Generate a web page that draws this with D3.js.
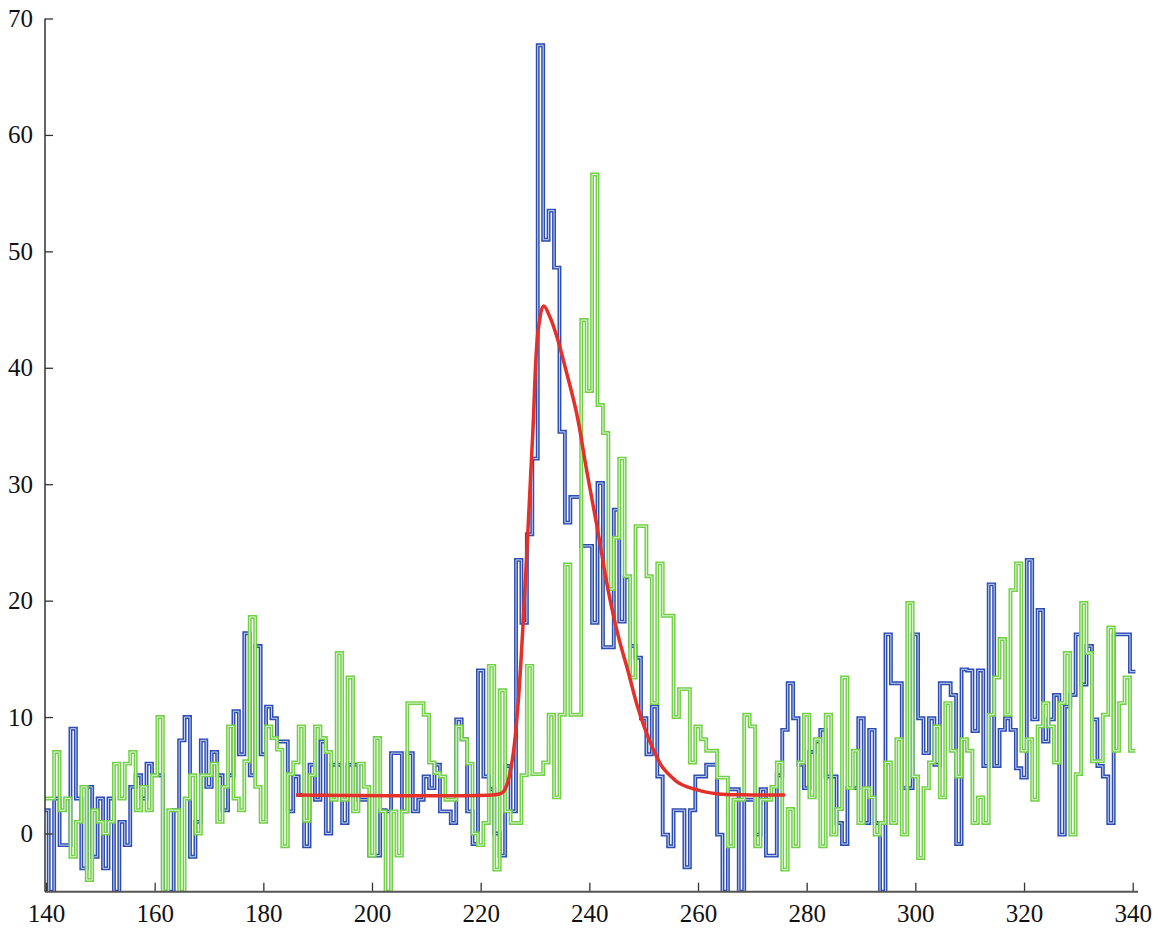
<!DOCTYPE html>
<html>
<head>
<meta charset="utf-8">
<script src="https://cdn.jsdelivr.net/npm/d3@7"></script>
<style>
  html, body { margin: 0; padding: 0; background: #fff; }
  svg { display: block; }
</style>
</head>
<body>
<svg id="chart" width="1158" height="928"></svg>
<script>
// Channel numbers (bin centres) shared by both spectra
const channelStart = 140;
const channelEnd = 340;

// Counts per channel, first spectrum (blue), channels 140..340
const blueCounts = [
  2, -5, 3, -1, -1, 9, 3, -3, 4, -2,                    // 140
  3, -3, 3, -5, 1, -1, 4, 5, 3, 6,                      // 150
  5, 5, -5, -5, 2, 8, 10, -2, 1, 8,                     // 160
  4, 7, 5, 2, 5, 10.5, 6.8, 17.2, 5, 16.1,              // 170
  6.8, 10.9, 9.9, 7.9, 7.9, 1.9, 4.9, 3.3, -1.1, 5.9,   // 180
  2.9, 7.9, 0, 5.9, 5.9, 0.9, 5.9, 5.9, 2.9, 2.9,       // 190
  -1.9, -1.9, 2, 1.9, 6.9, 6.9, 1.9, 6.9, 1.9, 2.9,     // 200
  4.9, 3.9, 5.9, 1.9, 1.9, 0.9, 9.8, 8.1, 1.9, -0.9,    // 210
  14, 4.9, 3.8, 0, -1.9, 5.8, 1.9, 23.5, 18.1, 25.7,    // 220
  32.2, 67.7, 51, 53.5, 48.6, 34.5, 26.7, 28.9, 28.9, 24.7, // 230
  24.7, 18.1, 30.1, 16, 16, 27.8, 18.2, 22, 16.1, 15.1, // 240
  9.9, 6.8, 10.9, 4.9, -0.1, -1.1, 2, 2, -2.9, 2,       // 250
  4.9, 4.9, 5.9, 5.9, -0.1, -5, 3.8, 3.8, -5, 2.9,      // 260
  2.9, -0.1, 3.8, -1.9, -1.9, 5, 8.9, 12.9, 9.9, 5.9,   // 270
  3.9, 7, 7.9, 8.9, 4.9, 4.9, 0.9, -0.9, 3.9, 3.9,      // 280
  9.9, 0.9, 8.9, 0.9, -5, 17.1, 12.9, 12.9, 3.9, 3.9,   // 290
  17.1, 9.9, 6.9, 9.9, 5.9, 12.9, 12.9, 11.9, -0.9, 14.1, // 300
  14, 8.8, 14, 5.8, 21.4, 5.8, 8.9, 9.9, 8.9, 5.6,      // 310
  4.8, 23.5, 9.8, 19.2, 7.9, 9.8, 11.9, -0.1, 10.9, 11.9, // 320
  17.1, 12.8, 16.1, 9.8, 5.8, 4.9, 0.9, 17.1, 17.1, 17.1, // 330
  13.9                                                  // 340
];

// Counts per channel, second spectrum (green), channels 140..340
const greenCounts = [
  3, 3, 7, 2, 3, -2, 1, 4, -4, 2,                       // 140
  1, 0, 1, 6, 3, 6, 7, 2, 4, 2,                         // 150
  5, 10, -5, 2, 2, -5, 3, 5, 0, 5,                      // 160
  5, 6, 1, 4, 9.2, 3, 2, 6.2, 18.6, 4,                  // 170
  1, 9.2, 8.2, 7.2, -1.1, 5.1, 6.1, 9.2, 1.1, 5,        // 180
  9.2, 8.2, 7, 2.9, 15.5, 2.9, 13.4, 1.9, 6, 4,         // 190
  -1.9, 8.2, 1.9, -5, 1.9, -1.9, 1.9, 11.2, 11.2, 11.2, // 200
  10.2, 6.1, 5.2, 4.9, 2.9, 2.9, 9.2, 8.1, 6, 0,        // 210
  -1, 0.9, 14.4, -3.1, 12.3, 1.9, 0.9, 0.9, 5, 14.4,    // 220
  5.1, 5.1, 6.1, 10.2, 3.1, 10.2, 23.1, 10.2, 10.2, 44.1, // 230
  38, 56.6, 36.8, 34.4, 21, 25.4, 32.2, 22.1, 13.4, 26.4, // 240
  26.4, 22.1, 11.2, 23.2, 18.7, 18.7, 10, 12.4, 12.4, 6.1, // 250
  9.2, 8.1, 7.1, 7.1, 4.8, 4.8, -1.1, 2.9, 2.9, 10.2,   // 260
  9.2, -1.1, 2.9, 2.9, 4, 6.1, -3.1, 2.1, -1.1, 6.1,    // 270
  10.2, 3.1, 8.1, -1.1, 10.2, -0.1, 2.1, 13.4, 3.9, 7.1, // 280
  0.9, 3.9, 3.1, -0.1, 0.9, 6.1, 0.9, 8.1, -0.1, 19.8,  // 290
  4.9, -2.1, 3.9, 6.1, 9.2, 3.1, 11.2, 7.1, 4.9, 8.1,   // 300
  7.1, 0.9, 3.1, 0.9, 10.2, 13.4, 16.7, 10.2, 20.9, 23.2, // 310
  7.1, 8.1, 2.9, 9.2, 11.2, 9.2, 6.1, 11.2, 15.5, -0.1, // 320
  5.1, 19.8, 15.5, 6.2, 6.2, 10.2, 17.7, 7.1, 11.2, 13.4, // 330
  7.1                                                   // 340
];

// Fitted peak shape (red), sampled channel / count pairs
const fitChannels = [186, 222, 223.5, 224.2, 225.1, 226, 226.9, 227.85, 228.8, 229.6,
  230.6, 231.6, 232.8, 234, 235.8, 237.7, 239.5, 241.4, 243.5, 245.3,
  247.2, 248.8, 250.3, 251.8, 253.3, 254.8, 256.4, 258, 259.5, 261.5,
  263.7, 268, 276];
const fitCounts = [3.3, 3.3, 3.4, 3.6, 4.6, 6.9, 11.2, 18.4, 27, 34.5,
  43.3, 45.3, 44.3, 42.7, 39.6, 36, 31.2, 26.4, 20.8, 17,
  13.8, 11, 8.9, 7.2, 5.8, 5, 4.35, 4, 3.8, 3.55,
  3.4, 3.32, 3.3];

const xTicks = [140, 160, 180, 200, 220, 240, 260, 280, 300, 320, 340];
const yTicks = [0, 10, 20, 30, 40, 50, 60, 70];

const svg = d3.select("#chart");

const x = d3.scaleLinear().domain([140, 340]).range([46, 1132.7]);
const y = d3.scaleLinear().domain([-5, 70]).range([891.7, 18.5]);

const plotLeft = 45, plotRight = 1138, plotTop = 18.5, plotBottom = 891.7;

svg.append("defs").append("clipPath").attr("id", "plot")
  .append("rect")
  .attr("x", plotLeft).attr("y", plotTop - 2)
  .attr("width", plotRight - plotLeft).attr("height", plotBottom - plotTop + 2);

// Each channel is drawn as a flat step spanning channel ± 0.5
function stepPoints(counts) {
  const pts = [];
  counts.forEach((c, i) => {
    const ch = channelStart + i;
    pts.push([ch - 0.5, c], [ch + 0.5, c]);
  });
  return pts;
}

const stepLine = d3.line().x(d => x(d[0])).y(d => y(d[1]));

const plot = svg.append("g").attr("clip-path", "url(#plot)");

// Histogram outline: a coloured stroke with a pale core
function drawSpectrum(counts, colour, core) {
  const d = stepLine(stepPoints(counts));
  plot.append("path").attr("d", d)
    .attr("fill", "none").attr("stroke", colour)
    .attr("stroke-width", 3.9).attr("stroke-linejoin", "miter");
  plot.append("path").attr("d", d)
    .attr("fill", "none").attr("stroke", core)
    .attr("stroke-width", 1.0).attr("stroke-linejoin", "miter");
}

drawSpectrum(blueCounts, "#2d4db0", "#c9d4f4");
drawSpectrum(greenCounts, "#72d048", "#e2f7d8");

const fit = fitChannels.map((c, i) => [c, fitCounts[i]]);
plot.append("path")
  .attr("d", d3.line().x(d => x(d[0])).y(d => y(d[1])).curve(d3.curveCatmullRom.alpha(0.5))(fit))
  .attr("fill", "none").attr("stroke", "#e5302a").attr("stroke-width", 3.5)
  .attr("stroke-linecap", "butt");

// Axes: ticks point into the plot
const serif = "'Liberation Serif', 'Times New Roman', serif";

const xAxis = d3.axisBottom(x).tickValues(xTicks).tickSize(-9).tickPadding(13).tickFormat(d3.format("d"));
const gx = svg.append("g").attr("transform", `translate(0,${plotBottom})`).call(xAxis);
gx.attr("font-family", serif).attr("font-size", 25);
gx.select(".domain").remove();
gx.selectAll(".tick line").attr("stroke", "#333").attr("stroke-width", 1.3);
gx.selectAll(".tick text").attr("fill", "#111");
svg.append("line").attr("x1", plotLeft).attr("x2", plotRight).attr("y1", plotBottom).attr("y2", plotBottom)
  .attr("stroke", "#555").attr("stroke-width", 2);

const yAxis = d3.axisLeft(y).tickValues(yTicks).tickSize(-8).tickPadding(12).tickFormat(d3.format("d"));
const gy = svg.append("g").attr("transform", `translate(${plotLeft},0)`).call(yAxis);
gy.attr("font-family", serif).attr("font-size", 25);
gy.select(".domain").remove();
gy.selectAll(".tick line").attr("stroke", "#333").attr("stroke-width", 1.3);
gy.selectAll(".tick text").attr("fill", "#111");
svg.append("line").attr("x1", plotLeft).attr("x2", plotLeft).attr("y1", plotTop).attr("y2", plotBottom)
  .attr("stroke", "#333").attr("stroke-width", 1.5);
</script>
</body>
</html>
